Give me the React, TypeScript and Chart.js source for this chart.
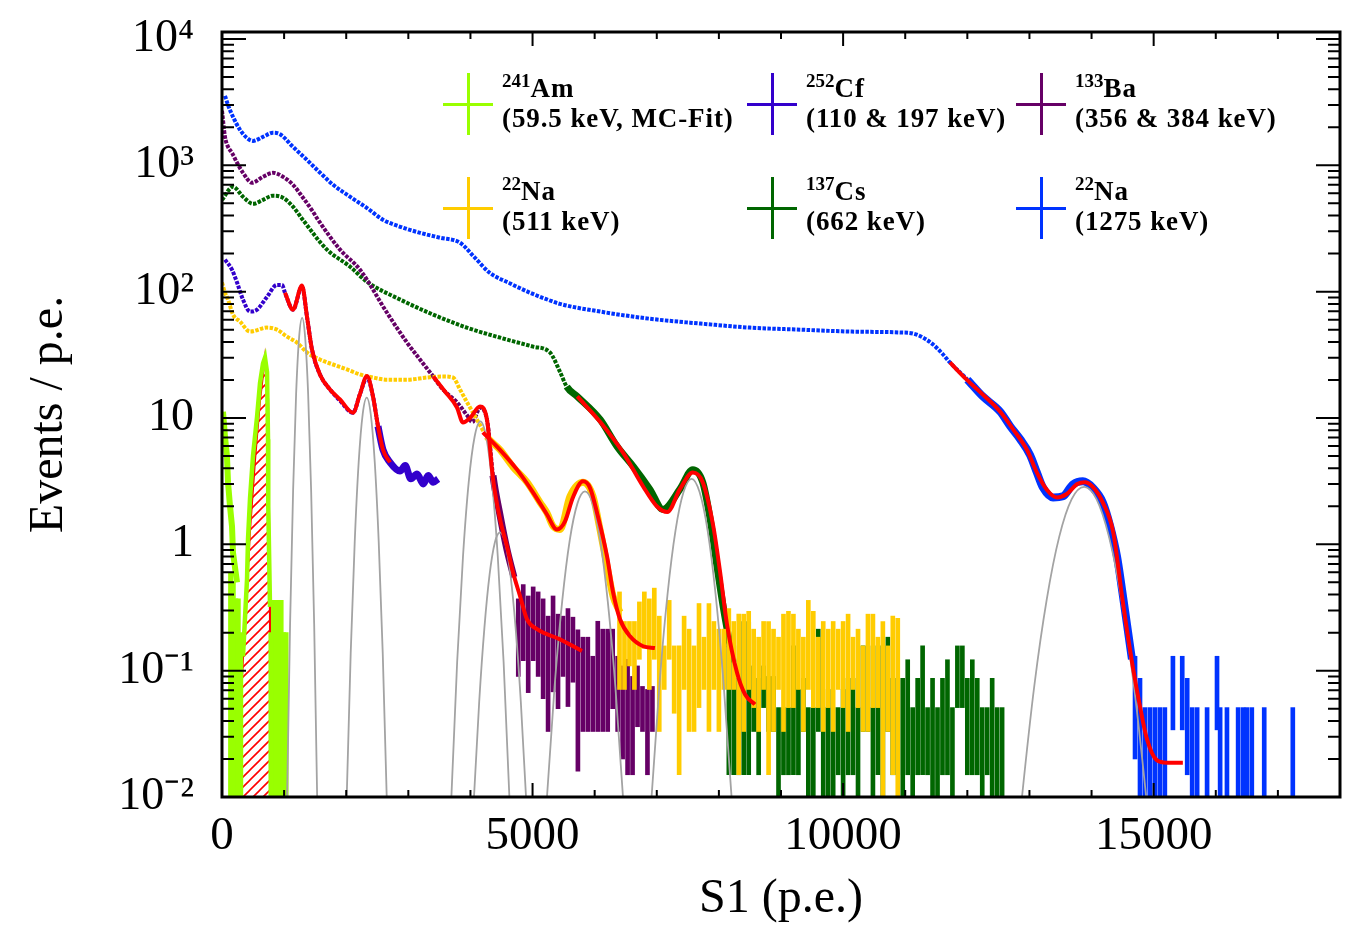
import React, { useEffect, useRef } from 'react';
import { Chart, registerables } from 'chart.js';

Chart.register(...registerables);

// ---------------- axes ----------------
const X_MIN = 0;
const X_MAX = 18000;
const Y_MIN = 0.01;
const Y_MAX = 11350;
const xLabelTicks = [0, 5000, 10000, 15000];
const xMinorStep = 1000;
const yLabelTicks = [0.01, 0.1, 1, 10, 100, 1000, 10000];
const yTickLabels = ['10\u207B\u00B2', '10\u207B\u00B9', '1', '10', '10\u00B2', '10\u00B3', '10\u2074'];

// ---------------- legend ----------------
const legendIso = ['241', '252', '133', '22', '137', '22'];
const legendName = ['Am', 'Cf', 'Ba', 'Na', 'Cs', 'Na'];
const legendEnergy = ['(59.5 keV, MC-Fit)', '(110 & 197 keV)', '(356 & 384 keV)', '(511 keV)', '(662 keV)', '(1275 keV)'];
const legendColor = ['#99ff00', '#3300cc', '#660066', '#ffcc00', '#006600', '#0033ff'];

// ---------------- 22Na 1275 keV (blue) ----------------
const naHighX = [48, 97, 177, 290, 400, 500, 660, 820, 935, 1143, 1370, 1580, 1790, 2060, 2330, 2590, 2870, 3190, 3510, 3830, 4070, 4310, 4640, 4960, 5200, 5440, 6090, 6890, 7700, 8500, 9310, 10110, 10920, 11125, 11290, 11450, 11610, 11720, 12000, 12250, 12530, 12690, 12850, 13010, 13120, 13220, 13380, 13540, 13700, 13860, 14020, 14180, 14300, 14410, 14490, 14570, 14650];
const naHighY = [3550, 3000, 2420, 1910, 1650, 1560, 1680, 1810, 1760, 1400, 1100, 872, 701, 564, 461, 371, 326, 292, 267, 244, 186, 141, 116, 98, 88, 80, 69.5, 61, 55.9, 51.9, 50, 48.3, 47.5, 46.6, 43.2, 38.1, 31.8, 27.5, 20.1, 14.8, 11.2, 8.6, 6.8, 5.1, 3.7, 2.8, 2.35, 2.4, 2.98, 3.15, 2.8, 2.15, 1.39, 0.8, 0.44, 0.233, 0.123];
const naHighTailX = [14700, 14780, 14860, 14940, 15020, 15100, 15180, 15310, 15460, 15540, 15620, 15700, 15860, 16020, 16070, 16180, 16360, 16440, 16500, 16580, 16780, 17240];
const naHighTailLo = [0.02, 0.009, 0.009, 0.009, 0.009, 0.009, 0.009, 0.034, 0.034, 0.015, 0.009, 0.009, 0.009, 0.034, 0.009, 0.009, 0.009, 0.009, 0.009, 0.009, 0.009, 0.009];
const naHighTailHi = [0.13, 0.087, 0.051, 0.051, 0.051, 0.051, 0.051, 0.13, 0.13, 0.087, 0.051, 0.051, 0.051, 0.13, 0.051, 0.051, 0.051, 0.051, 0.051, 0.051, 0.051, 0.051];

// ---------------- 137Cs (green) ----------------
const csX = [0, 177, 338, 500, 660, 820, 980, 1143, 1300, 1690, 2060, 2330, 2870, 3400, 3940, 4480, 5010, 5280, 5440, 5550, 5720, 6090, 6360, 6620, 6890, 7100, 7370, 7580, 7740, 7860, 7970, 8070, 8230];
const csY = [533, 676, 564, 496, 533, 574, 554, 470, 371, 215, 158, 120, 86.5, 65.8, 51.9, 43.2, 36.7, 33, 23.3, 17.7, 14.8, 9.7, 5.96, 4.14, 2.72, 1.89, 2.72, 3.9, 3.1, 1.58, 0.67, 0.32, 0.117];
const csTailStart = 8160;
const csTailStep = 80;
const csTailLo = [0.015, 0.015, 0.015, 0.015, 0.015, 0.033, 0.015, 0.051, 0.033, 0.033,
  0.009, 0.015, 0.015, 0.015, 0.015, 0.033, 0.009, 0.009, 0.033, 0.009,
  0.009, 0.009, 0.015, 0.009, 0.015, 0.015, 0.009, 0.033, 0.033, 0.009,
  0.015, 0.009, 0.033, 0.015, 0.015, 0.009, 0.015, 0.009, 0.015, 0.015,
  0.015, 0.009, 0.009, 0.015, 0.015, 0.009, 0.051, 0.051, 0.015, 0.015,
  0.015, 0.009, 0.015, 0.009, 0.009, 0.009];
const csTailHi = [0.157, 0.157, 0.087, 0.245, 0.245, 0.109, 0.087, 0.109, 0.09, 0.09,
  0.051, 0.051, 0.051, 0.157, 0.071, 0.087, 0.051, 0.051, 0.213, 0.051,
  0.071, 0.051, 0.051, 0.071, 0.087, 0.087, 0.051, 0.157, 0.157, 0.051,
  0.157, 0.157, 0.184, 0.087, 0.087, 0.087, 0.122, 0.051, 0.087, 0.157,
  0.051, 0.087, 0.051, 0.087, 0.122, 0.051, 0.157, 0.157, 0.087, 0.122,
  0.087, 0.051, 0.051, 0.087, 0.051, 0.051];

// ---------------- 133Ba (purple) ----------------
const baX = [0, 48, 97, 161, 242, 338, 483, 660, 821, 982, 1143, 1304, 1465, 1546, 1900, 2222, 2657, 2979, 3188, 3400, 3558, 3783, 3945, 4030, 4154, 4270, 4363, 4476, 4590, 4700];
const baY = [2700, 1680, 1400, 1255, 1047, 872, 728, 811, 872, 811, 701, 554, 429, 371, 215, 149, 68, 39.5, 29, 21.3, 16.8, 13.3, 10.5, 9.3, 12, 9.5, 3.5, 1.7, 0.9, 0.55];
const baTailStart = 4770;
const baTailStep = 80;
const baTailLo = [0.09, 0.12, 0.067, 0.12, 0.09, 0.06, 0.033, 0.068, 0.05, 0.09, 0.052, 0.081, 0.016, 0.033, 0.033, 0.033, 0.033, 0.033, 0.033, 0.05, 0.033, 0.02, 0.015, 0.015, 0.036, 0.033, 0.015, 0.033];
const baTailHi = [0.37, 0.48, 0.39, 0.46, 0.42, 0.37, 0.27, 0.39, 0.28, 0.27, 0.31, 0.265, 0.21, 0.184, 0.184, 0.13, 0.246, 0.213, 0.213, 0.213, 0.13, 0.109, 0.123, 0.09, 0.109, 0.075, 0.071, 0.075];

// ---------------- 22Na 511 keV (yellow) ----------------
const naLowX = [0, 48, 97, 177, 290, 451, 725, 886, 1047, 1208, 1369, 1578, 1787, 2013, 2222, 2431, 2657, 2979, 3300, 3558, 3719, 3832, 3945, 4106, 4266, 4476, 4685, 4911, 5120, 5230, 5330, 5442, 5603, 5812, 5973, 6086, 6200, 6295, 6408];
const naLowY = [118, 98, 86.5, 65.8, 58, 48.3, 51.9, 50, 44, 39.5, 33, 29, 26.5, 24.2, 22.1, 20.9, 20.1, 20.1, 20.9, 21.3, 20.9, 16.8, 13.3, 9.7, 7.1, 5.6, 4.1, 3.1, 2.15, 1.78, 1.39, 1.31, 2.4, 3.1, 2.4, 1.31, 0.67, 0.39, 0.29];
const naLowTailStart = 6400;
const naLowTailStep = 80;
const naLowTailLo = [0.071, 0.071, 0.109, 0.071, 0.123, 0.15, 0.071, 0.123, 0.033, 0.071,
  0.123, 0.046, 0.015, 0.071, 0.033, 0.033, 0.051, 0.071, 0.033, 0.071,
  0.033, 0.071, 0.071, 0.071, 0.015, 0.033, 0.071, 0.051, 0.033, 0.071,
  0.015, 0.033, 0.071, 0.033, 0.051, 0.051, 0.071, 0.033, 0.071, 0.051,
  0.051, 0.033, 0.051, 0.033, 0.071, 0.051, 0.033, 0.071, 0.051, 0.033,
  0.033, 0.051, 0.051, 0.009, 0.033, 0.015, 0.009];
const naLowTailHi = [0.42, 0.245, 0.245, 0.245, 0.35, 0.42, 0.37, 0.45, 0.27, 0.157,
  0.36, 0.157, 0.157, 0.27, 0.213, 0.157, 0.34, 0.184, 0.34, 0.245,
  0.213, 0.213, 0.31, 0.245, 0.28, 0.28, 0.295, 0.213, 0.184, 0.245,
  0.245, 0.213, 0.184, 0.28, 0.295, 0.28, 0.213, 0.184, 0.36, 0.295,
  0.184, 0.245, 0.213, 0.245, 0.213, 0.245, 0.28, 0.184, 0.213, 0.157,
  0.28, 0.28, 0.184, 0.245, 0.157, 0.27, 0.26];

// ---------------- 252Cf (indigo) ----------------
const cfX = [48, 161, 242, 338, 451, 564, 725, 886, 966, 1014, 1143, 1288, 1369, 1449, 1578, 1739, 1900, 2109, 2222, 2335, 2431, 2512, 2592, 2705, 2866, 2950, 3040, 3140, 3240, 3320, 3400, 3480];
const cfY = [179, 149, 118, 86.5, 69.5, 72, 91, 113, 113, 98, 72, 110, 63, 34.8, 22.1, 16.8, 13.7, 11, 15.5, 20.9, 14.8, 8.6, 5.6, 4.45, 3.8, 4.2, 3.3, 3.6, 3.0, 3.5, 3.1, 3.3];

// ---------------- 241Am (lime) + MC fit ----------------
const amLeftX = [16, 48, 80, 97, 129, 161, 177, 242];
const amLeftY = [11.2, 7.1, 4.97, 3.09, 2.0, 1.39, 0.86, 0.5];
const amPeakX = [338, 403, 419, 451, 499, 564, 612, 660, 692, 725, 741, 745, 773];
const amPeakY = [0.13, 0.53, 1.1, 2.3, 5.0, 10.2, 18.9, 27, 30, 23, 6.8, 2.0, 0.32];
const amBarX = [140, 180, 220, 260, 300, 790, 830, 870, 910, 950, 990, 1030];
const amBarLo = [0.009, 0.009, 0.009, 0.009, 0.009, 0.009, 0.009, 0.009, 0.009, 0.009, 0.009, 0.009];
const amBarHi = [0.6, 0.5, 0.37, 0.37, 0.2, 0.2, 0.36, 0.36, 0.36, 0.36, 0.2, 0.2];
const amMcX = [306, 306, 338, 451, 531, 612, 692, 725, 741, 757, 773, 780];
const amMcY = [0.009, 0.06, 0.13, 1.31, 4.7, 14, 30, 20, 14, 1.5, 0.3, 0.009];

// ---------------- red fits ----------------
const fitCfX = [1014, 1143, 1288, 1369, 1449, 1578, 1739, 1900, 2109, 2222, 2335, 2431, 2512, 2592, 2705];
const fitCfY = [98, 72, 112, 63, 34.8, 22, 16.8, 14, 11, 15.5, 21.5, 14.8, 8.6, 5.6, 4.45];
const fitBaX = [3400, 3590, 3783, 3880, 3993, 4154, 4266, 4363, 4476, 4589, 4685, 4798, 4911, 5072, 5442, 5796];
const fitBaY = [21.3, 16.2, 12.1, 9.2, 10, 12.3, 9.7, 3.3, 1.58, 0.96, 0.6, 0.39, 0.255, 0.213, 0.177, 0.143];
const fitNaLowX = [4200, 4476, 4750, 5007, 5230, 5393, 5522, 5650, 5812, 5925, 6038, 6200, 6295, 6408, 6570, 6780, 6970];
const fitNaLowY = [7.7, 5.6, 3.9, 2.58, 1.73, 1.31, 1.52, 2.35, 3.15, 2.8, 1.78, 0.8, 0.42, 0.255, 0.187, 0.156, 0.151];
const fitCsX = [5720, 6090, 6460, 6780, 7000, 7170, 7370, 7580, 7740, 7910, 8020, 8130, 8290, 8420, 8580];
const fitCsY = [14.8, 9.3, 5.3, 2.87, 2.0, 1.8, 2.72, 3.7, 3.1, 1.39, 0.6, 0.233, 0.097, 0.065, 0.054];
const fitNaHighX = [11720, 11990, 12250, 12530, 12740, 12960, 13120, 13280, 13440, 13600, 13770, 13890, 14020, 14180, 14350, 14490, 14570, 14670, 14780, 14890, 15050, 15210, 15470];
const fitNaHighY = [27.5, 20.1, 15.3, 11.2, 8.1, 5.6, 3.7, 2.7, 2.35, 2.5, 3.0, 3.1, 2.85, 2.15, 1.24, 0.39, 0.21, 0.103, 0.052, 0.029, 0.0196, 0.0187, 0.0187];

// ---------------- grey peak components ----------------
const gCf1X = [1024, 1048, 1096, 1145, 1193, 1242, 1290, 1338, 1387, 1435, 1484, 1532, 1556];
const gCf1Y = [0.0016, 0.01, 0.233, 2.69, 15.4, 43.9, 62, 43.9, 15.4, 2.69, 0.233, 0.01, 0.0016];
const gCf2X = [1976, 2008, 2072, 2137, 2201, 2266, 2330, 2394, 2459, 2523, 2588, 2652, 2684];
const gCf2Y = [0.0022, 0.01, 0.137, 1.05, 4.5, 10.8, 14.5, 10.8, 4.5, 1.05, 0.137, 0.01, 0.0022];
const gBa1X = [3646, 3693, 3786, 3880, 3973, 4067, 4160, 4253, 4347, 4440, 4534, 4627, 4674];
const gBa1Y = [0.0024, 0.01, 0.117, 0.8, 3.13, 7.1, 9.4, 7.1, 3.13, 0.8, 0.117, 0.01, 0.0024];
const gBa2X = [4015, 4057, 4141, 4225, 4308, 4392, 4476, 4560, 4644, 4727, 4811, 4895, 4937];
const gBa2Y = [0.0036, 0.01, 0.0568, 0.219, 0.575, 1.03, 1.24, 1.03, 0.575, 0.219, 0.0568, 0.01, 0.0036];
const gNaLowX = [5171, 5232, 5354, 5477, 5599, 5722, 5844, 5966, 6089, 6211, 6334, 6456, 6517];
const gNaLowY = [0.0031, 0.01, 0.0743, 0.353, 1.08, 2.1, 2.62, 2.1, 1.08, 0.353, 0.0743, 0.01, 0.0031];
const gCsX = [6852, 6916, 7045, 7174, 7302, 7431, 7560, 7689, 7818, 7946, 8075, 8204, 8268];
const gCsY = [0.003, 0.01, 0.08, 0.406, 1.29, 2.59, 3.3, 2.59, 1.29, 0.406, 0.08, 0.01, 0.003];
const gNaHighX = [12780, 12880, 13080, 13280, 13480, 13680, 13880, 14080, 14280, 14480, 14680, 14880, 14980];
const gNaHighY = [0.0031, 0.01, 0.077, 0.37, 1.15, 2.28, 2.85, 2.28, 1.15, 0.37, 0.077, 0.01, 0.0031];

// ---------------- helpers ----------------
const pts = (xs: number[], ys: number[]) => xs.map((x, i) => ({ x, y: ys[i] }));
const binsXY = (xs: number[], lo: number[], hi: number[]) => xs.map((x, i) => ({ x, y: [lo[i], hi[i]] }));
const binsStep = (start: number, step: number, lo: number[], hi: number[]) =>
  lo.map((l, i) => ({ x: start + i * step, y: [l, hi[i]] }));

const RED = '#ff0000';
const GREY = '#a3a3a3';
const FONT = "'Liberation Serif', 'Times New Roman', serif";

const lineDs = (data: any[], color: string, width: number, order: number, extra: any = {}) => ({
  type: 'line',
  data,
  borderColor: color,
  backgroundColor: color,
  borderWidth: width,
  pointRadius: 0,
  pointHoverRadius: 0,
  fill: false,
  order,
  cubicInterpolationMode: 'monotone',
  ...extra,
});

const barDs = (data: any[], color: string, thickness: number, order: number) => ({
  type: 'bar',
  data,
  backgroundColor: color,
  borderWidth: 0,
  barThickness: thickness,
  grouped: false,
  order,
});

const dotted = (x0: number, w: number) => ({
  borderDash: [3.5, 1.4],
  segment: {
    borderWidth: (c: any) => (c.p0.parsed.x >= x0 ? w : undefined),
    borderDash: (c: any) => (c.p0.parsed.x >= x0 ? [] : undefined),
  },
});

const rootFrame = {
  id: 'rootFrame',
  afterDraw(chart: any) {
    const { ctx, chartArea: a, scales } = chart;
    const xs = scales.x;
    const ys = scales.y;
    ctx.save();
    ctx.strokeStyle = '#000';
    ctx.lineWidth = 2;
    ctx.beginPath();
    for (let v = X_MIN; v <= X_MAX; v += xMinorStep) {
      const p = xs.getPixelForValue(v);
      const len = xLabelTicks.includes(v) ? 14 : 7;
      ctx.moveTo(p, a.bottom);
      ctx.lineTo(p, a.bottom - len);
      ctx.moveTo(p, a.top);
      ctx.lineTo(p, a.top + len);
    }
    for (let e = -2; e <= 4; e++) {
      for (let m = 1; m <= 9; m++) {
        const v = m * Math.pow(10, e);
        if (v < Y_MIN * 0.999 || v > Y_MAX) continue;
        const p = ys.getPixelForValue(v);
        const len = m === 1 ? 24 : 12;
        ctx.moveTo(a.left, p);
        ctx.lineTo(a.left + len, p);
        ctx.moveTo(a.right, p);
        ctx.lineTo(a.right - len, p);
      }
    }
    ctx.stroke();
    ctx.lineWidth = 3;
    ctx.strokeRect(a.left, a.top, a.right - a.left, a.bottom - a.top);
    ctx.restore();
  },
};

function Legend() {
  const crossX = [468, 772, 1041];
  const textX = [502, 806, 1075];
  const crossY = [104, 208];
  const textTop = [72.5, 176];
  return (
    <>
      {legendName.map((name, i) => {
        const col = i % 3;
        const row = Math.floor(i / 3);
        return (
          <React.Fragment key={i}>
            <div style={{ position: 'absolute', left: crossX[col] - 25, top: crossY[row] - 31, width: 50, height: 62 }}>
              <div style={{ position: 'absolute', left: 23.5, top: 0, width: 3, height: 62, background: legendColor[i] }} />
              <div style={{ position: 'absolute', left: 0, top: 29.5, width: 50, height: 3, background: legendColor[i] }} />
            </div>
            <div
              style={{
                position: 'absolute',
                left: textX[col],
                top: textTop[row],
                fontFamily: FONT,
                fontWeight: 'bold',
                fontSize: 27,
                lineHeight: '30px',
                letterSpacing: '0.9px',
                whiteSpace: 'nowrap',
                color: '#000',
              }}
            >
              <div style={{ height: 30 }}>
                <span style={{ fontSize: 19, lineHeight: '0px', position: 'relative', top: -10, letterSpacing: '0px' }}>{legendIso[i]}</span>
                {name}
              </div>
              <div style={{ height: 30 }}>{legendEnergy[i]}</div>
            </div>
          </React.Fragment>
        );
      })}
    </>
  );
}

export default function App() {
  const ref = useRef<HTMLCanvasElement>(null);

  useEffect(() => {
    document.body.style.margin = '0';
    const canvas = ref.current as HTMLCanvasElement;
    const pc = document.createElement('canvas');
    pc.width = 10;
    pc.height = 10;
    const g = pc.getContext('2d') as CanvasRenderingContext2D;
    g.strokeStyle = RED;
    g.lineWidth = 1.6;
    g.beginPath();
    g.moveTo(0, 10);
    g.lineTo(10, 0);
    g.moveTo(-2, 2);
    g.lineTo(2, -2);
    g.moveTo(8, 12);
    g.lineTo(12, 8);
    g.stroke();
    const hatch = (canvas.getContext('2d') as CanvasRenderingContext2D).createPattern(pc, 'repeat');

    const datasets: any[] = [
      // red fits
      lineDs(pts(fitCfX, fitCfY), RED, 4, 0),
      lineDs(pts(fitBaX, fitBaY), RED, 4, 0),
      lineDs(pts(fitNaLowX, fitNaLowY), RED, 4, 0),
      lineDs(pts(fitCsX, fitCsY), RED, 4, 0),
      lineDs(pts(fitNaHighX, fitNaHighY), RED, 4, 0),
      // grey components
      lineDs(pts(gCf1X, gCf1Y), GREY, 1.8, 1),
      lineDs(pts(gCf2X, gCf2Y), GREY, 1.8, 1),
      lineDs(pts(gBa1X, gBa1Y), GREY, 1.8, 1),
      lineDs(pts(gBa2X, gBa2Y), GREY, 1.8, 1),
      lineDs(pts(gNaLowX, gNaLowY), GREY, 1.8, 1),
      lineDs(pts(gCsX, gCsY), GREY, 1.8, 1),
      lineDs(pts(gNaHighX, gNaHighY), GREY, 1.8, 1),
      // Am
      lineDs(pts(amLeftX, amLeftY), legendColor[0], 6, 2, { tension: 0, cubicInterpolationMode: 'default' }),
      lineDs(pts(amPeakX, amPeakY), legendColor[0], 4.5, 2, { tension: 0, cubicInterpolationMode: 'default' }),
      barDs(binsXY(amBarX, amBarLo, amBarHi), legendColor[0], 4.5, 2),
      lineDs(pts(amMcX, amMcY), RED, 2.2, 3, { tension: 0, cubicInterpolationMode: 'default', fill: 'start', backgroundColor: hatch }),
      // Cf
      lineDs(pts(cfX, cfY), legendColor[1], 4, 4, dotted(2450, 7)),
      // Na 511
      lineDs(pts(naLowX, naLowY), legendColor[3], 4, 5, dotted(4150, 7)),
      barDs(binsStep(naLowTailStart, naLowTailStep, naLowTailLo, naLowTailHi), legendColor[3], 4, 5),
      // Ba
      lineDs(pts(baX, baY), legendColor[2], 4, 6, dotted(4300, 7)),
      barDs(binsStep(baTailStart, baTailStep, baTailLo, baTailHi), legendColor[2], 4, 6),
      // Cs
      lineDs(pts(csX, csY), legendColor[4], 4, 7, dotted(5450, 7)),
      barDs(binsStep(csTailStart, csTailStep, csTailLo, csTailHi), legendColor[4], 4, 7),
      // Na 1275
      lineDs(pts(naHighX, naHighY), legendColor[5], 4, 8, dotted(11800, 8)),
      barDs(binsXY(naHighTailX, naHighTailLo, naHighTailHi), legendColor[5], 4, 8),
    ];

    const chart = new Chart(canvas, {
      type: 'line',
      data: { datasets },
      options: {
        responsive: false,
        animation: false,
        devicePixelRatio: 1,
        events: [],
        layout: { padding: { top: 32, right: 18, left: 0, bottom: 0 } },
        plugins: { legend: { display: false }, tooltip: { enabled: false } },
        scales: {
          x: {
            type: 'linear',
            min: X_MIN,
            max: X_MAX,
            offset: false,
            grid: { display: false, drawTicks: false },
            border: { display: false },
            afterBuildTicks: (s: any) => {
              s.ticks = xLabelTicks.map((v) => ({ value: v }));
            },
            afterFit: (s: any) => {
              s.height = 140;
              s.paddingLeft = 0;
              s.paddingRight = 0;
            },
            ticks: {
              autoSkip: false,
              maxRotation: 0,
              padding: 11,
              color: '#000',
              font: { family: FONT, size: 47 },
              callback: (v: any) => String(v),
            },
            title: {
              display: true,
              text: 'S1 (p.e.)',
              color: '#000',
              font: { family: FONT, size: 48 },
              padding: { top: 0, bottom: 9 },
            },
          },
          y: {
            type: 'logarithmic',
            min: Y_MIN,
            max: Y_MAX,
            grid: { display: false, drawTicks: false },
            border: { display: false },
            afterBuildTicks: (s: any) => {
              s.ticks = yLabelTicks.map((v) => ({ value: v }));
            },
            afterFit: (s: any) => {
              s.width = 222;
              s.paddingTop = 0;
              s.paddingBottom = 0;
            },
            ticks: {
              autoSkip: false,
              padding: 28,
              color: '#000',
              font: { family: FONT, size: 46 },
              callback: (_v: any, i: number) => yTickLabels[i],
            },
            title: {
              display: true,
              text: 'Events / p.e.',
              color: '#000',
              font: { family: FONT, size: 48 },
              padding: { top: 21, bottom: 0 },
            },
          },
        },
      } as any,
      plugins: [rootFrame],
    } as any);

    return () => chart.destroy();
  }, []);

  return (
    <div style={{ position: 'absolute', left: 0, top: 0, width: 1358, height: 937, background: '#fff', overflow: 'hidden' }}>
      <canvas ref={ref} width={1358} height={937} style={{ position: 'absolute', left: 0, top: 0, width: 1358, height: 937 }} />
      <Legend />
    </div>
  );
}
